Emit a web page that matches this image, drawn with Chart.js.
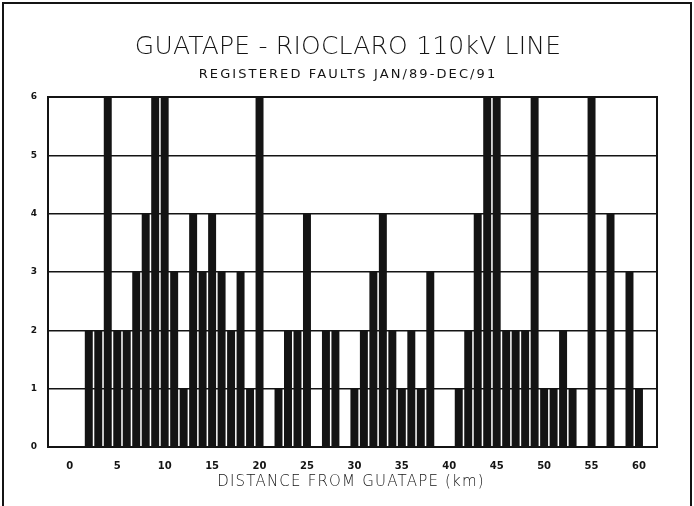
<!DOCTYPE html>
<html>
<head>
<meta charset="utf-8">
<script src="https://cdn.jsdelivr.net/npm/chart.js@4/dist/chart.umd.min.js"></script>
<style>
  html, body { margin: 0; padding: 0; background: #fff; }
  #wrap { width: 694px; height: 506px; }
</style>
</head>
<body>
<div id="wrap"><canvas id="faultChart" width="694" height="506"></canvas></div>
<script>
// fault counts per km along the line
const distanceKm = [0, 1, 2, 3, 4, 5, 6, 7, 8, 9, 10, 11, 12, 13, 14, 15, 16, 17, 18, 19,
    20, 21, 22, 23, 24, 25, 26, 27, 28, 29, 30, 31, 32, 33, 34, 35, 36, 37, 38, 39,
    40, 41, 42, 43, 44, 45, 46, 47, 48, 49, 50, 51, 52, 53, 54, 55, 56, 57, 58, 59, 60, 61];
const faultCount = [0, 0, 2, 2, 6, 2, 2, 3, 4, 6, 6, 3, 1, 4, 3, 4, 3, 2, 3, 1,
    6, 0, 1, 2, 2, 4, 0, 2, 2, 0, 1, 2, 3, 4, 2, 1, 2, 1, 3, 0,
    0, 1, 2, 4, 6, 6, 2, 2, 2, 6, 1, 1, 2, 1, 0, 6, 0, 4, 0, 3, 1, 0];
const xTickValues = [0, 5, 10, 15, 20, 25, 30, 35, 40, 45, 50, 55, 60];
const yTickValues = [0, 1, 2, 3, 4, 5, 6];

const titleText = "GUATAPE - RIOCLARO 110kV LINE";
const subtitleText = "REGISTERED FAULTS JAN/89-DEC/91";
const xAxisText = "DISTANCE FROM GUATAPE (km)";

const ink = '#141414';

// titles drawn with letter spacing, like the plotter lettering
const plotterText = {
    id: 'plotterText',
    beforeDraw(chart) {
        const ctx = chart.ctx;
        ctx.save();
        ctx.fillStyle = '#fff';
        ctx.fillRect(0, 0, chart.width, chart.height);
        // page frame
        ctx.strokeStyle = ink;
        ctx.lineWidth = 2;
        ctx.beginPath();
        ctx.moveTo(3, chart.height);
        ctx.lineTo(3, 3);
        ctx.lineTo(chart.width - 3, 3);
        ctx.lineTo(chart.width - 3, chart.height);
        ctx.stroke();
        ctx.restore();
    },
    afterDraw(chart) {
        const ctx = chart.ctx;
        ctx.save();
        ctx.fillStyle = ink;
        ctx.textAlign = 'center';
        ctx.textBaseline = 'middle';

        ctx.font = '200 25px "DejaVu Sans"';
        ctx.letterSpacing = '0.2px';
        ctx.fillText(titleText, 348, 47);

        ctx.font = '13px "DejaVu Sans"';
        ctx.letterSpacing = '2.1px';
        ctx.fillText(subtitleText, 348, 75);

        ctx.font = '200 15px "DejaVu Sans"';
        ctx.letterSpacing = '1.2px';
        ctx.fillText(xAxisText, 351, 482);
        ctx.restore();
    }
};

// box round the plot area, over the bars
const plotFrame = {
    id: 'plotFrame',
    afterDatasetsDraw(chart) {
        const a = chart.chartArea;
        const ctx = chart.ctx;
        ctx.save();
        ctx.strokeStyle = ink;
        ctx.lineWidth = 2;
        ctx.strokeRect(a.left, a.top, a.right - a.left, a.bottom - a.top);
        ctx.restore();
    }
};

const ctx = document.getElementById('faultChart').getContext('2d');
new Chart(ctx, {
    type: 'bar',
    data: {
        datasets: [{
            data: distanceKm.map((d, i) => ({ x: d, y: faultCount[i] })),
            backgroundColor: ink,
            borderWidth: 0,
            barPercentage: 0.84,
            categoryPercentage: 1
        }]
    },
    options: {
        responsive: false,
        animation: false,
        devicePixelRatio: 1,
        layout: { padding: { left: 0, right: 37, top: 97, bottom: 0 } },
        plugins: {
            legend: { display: false },
            tooltip: { enabled: false }
        },
        scales: {
            x: {
                type: 'linear',
                offset: false,
                min: -2.3,
                max: 61.9,
                afterBuildTicks: s => { s.ticks = xTickValues.map(v => ({ value: v })); },
                afterFit: s => { s.height = 59; },
                grid: { display: false, drawTicks: false, offset: false },
                border: { display: true, color: ink, width: 2 },
                ticks: {
                    color: ink,
                    padding: 13,
                    maxRotation: 0,
                    autoSkip: false,
                    font: { family: 'DejaVu Sans', size: 10, weight: 'bold' }
                }
            },
            y: {
                min: 0,
                max: 6,
                afterBuildTicks: s => { s.ticks = yTickValues.map(v => ({ value: v })); },
                afterFit: s => { s.width = 48; },
                grid: { color: ink, lineWidth: 1.5, drawTicks: false },
                border: { display: true, color: ink, width: 2 },
                ticks: {
                    color: ink,
                    padding: 11,
                    font: { family: 'DejaVu Sans', size: 9, weight: 'bold' }
                }
            }
        }
    },
    plugins: [plotterText, plotFrame]
});
</script>
</body>
</html>
